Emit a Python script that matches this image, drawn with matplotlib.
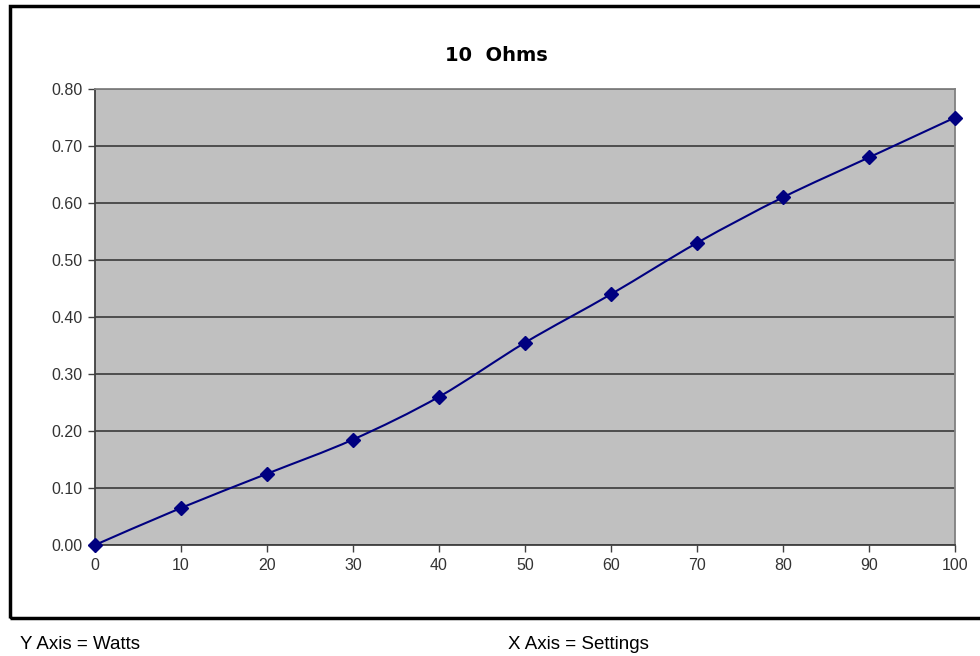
#!/usr/bin/env python3
# -*- coding: utf-8 -*-

import numpy as np
import matplotlib
matplotlib.use("Agg")
import matplotlib.pyplot as plt
from matplotlib.path import Path
from matplotlib.patches import PathPatch, Rectangle

# -------------------------
# Data
# -------------------------
settings = [0, 10, 20, 30, 40, 50, 60, 70, 80, 90, 100]
watts = [0.0, 0.065, 0.125, 0.185, 0.26, 0.355, 0.44, 0.53, 0.61, 0.68, 0.75]
x_ticks = [0, 10, 20, 30, 40, 50, 60, 70, 80, 90, 100]
y_ticks = [0.0, 0.1, 0.2, 0.3, 0.4, 0.5, 0.6, 0.7, 0.8]
title = "10  Ohms"
y_note = "Y Axis = Watts"
x_note = "X Axis = Settings"

NAVY = "#000080"


def smooth_path(x, y, t=1.0 / 6.0):
    # Excel-style smoothed line: Catmull-Rom control points as cubic Bezier
    x = np.asarray(x, float)
    y = np.asarray(y, float)
    verts = [(x[0], y[0])]
    codes = [Path.MOVETO]
    n = len(x)
    for i in range(n - 1):
        i0 = max(i - 1, 0)
        i3 = min(i + 2, n - 1)
        c1 = (x[i] + (x[i + 1] - x[i0]) * t, y[i] + (y[i + 1] - y[i0]) * t)
        c2 = (x[i + 1] - (x[i3] - x[i]) * t, y[i + 1] - (y[i3] - y[i]) * t)
        verts += [c1, c2, (x[i + 1], y[i + 1])]
        codes += [Path.CURVE4] * 3
    return Path(verts, codes)


plt.rcParams["font.family"] = ["Liberation Sans", "DejaVu Sans"]

fig = plt.figure(figsize=(9.8, 6.56), dpi=100)

# outer chart frame
frame = Rectangle((0.0102, 0.058), 1.0, 0.933, transform=fig.transFigure,
                  fill=False, edgecolor="black", linewidth=2.5, zorder=0)
fig.patches.append(frame)

ax = fig.add_axes([0.0969, 0.1692, 0.8776, 0.6951])
ax.set_facecolor("#C0C0C0")

ax.add_patch(PathPatch(smooth_path(settings, watts), facecolor="none",
                       edgecolor=NAVY, linewidth=1.5, zorder=3))
ax.plot(settings, watts, linestyle="none", marker="D", markersize=7.5,
        color=NAVY, zorder=4, clip_on=False)

ax.set_xlim(0, 100)
ax.set_ylim(0, 0.8)
ax.set_xticks(x_ticks)
ax.set_yticks(y_ticks)
ax.set_yticklabels([f"{v:.2f}" for v in y_ticks])
ax.yaxis.grid(True, color="#3a3a3a", linewidth=1.2)
ax.set_axisbelow(True)

for side in ("left", "bottom"):
    ax.spines[side].set_color("#404040")
    ax.spines[side].set_linewidth(1.3)
for side in ("top", "right"):
    ax.spines[side].set_color("#808080")
    ax.spines[side].set_linewidth(1.3)

ax.tick_params(axis="both", direction="out", length=5, width=1.0,
               color="#404040", labelcolor="#333333", labelsize=11.5)
ax.tick_params(axis="x", pad=4)
ax.tick_params(axis="y", pad=4)

fig.text(0.506, 0.916, title, ha="center", va="center",
         fontsize=14, fontweight="bold", family="DejaVu Sans")

fig.text(0.020, 0.017, y_note, ha="left", va="center", fontsize=13.5)
fig.text(0.518, 0.017, x_note, ha="left", va="center", fontsize=13.5)

fig.savefig("out.png", dpi=100)
plt.close(fig)
